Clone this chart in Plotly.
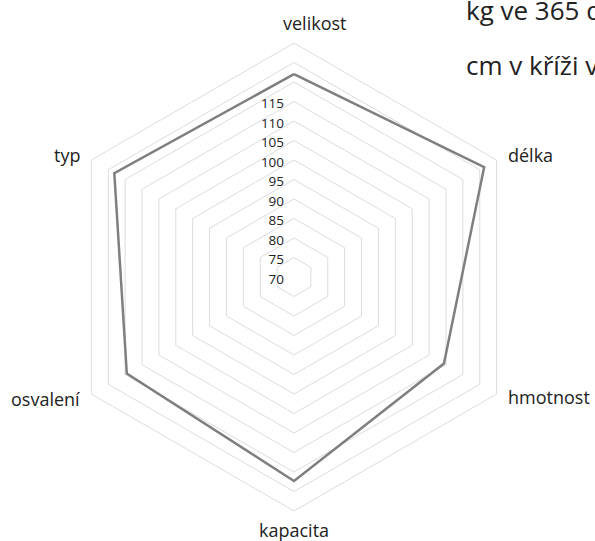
import plotly.graph_objects as go

categories = ["velikost", "délka", "hmotnost", "kapacita", "osvalení", "typ"]
values = [122.0, 126.3, 114.4, 122.3, 119.5, 123.2]
tick_values = [70, 75, 80, 85, 90, 95, 100, 105, 110, 115, 120, 125, 130]
tick_labels = ["70", "75", "80", "85", "90", "95", "100", "105", "110", "115", "", "", ""]
legend_lines = ["kg ve 365 dnech", "cm v kříži v dospělosti"]

W, H = 595, 541
FONT = "Open Sans"

# layout positions (pixels) for the category labels
label_pos = [
    (314, 23, "center"),
    (506, 155, "left"),
    (506, 397, "left"),
    (294, 530, "center"),
    (82, 399, "right"),
    (82, 155, "right"),
]

fig = go.Figure()
fig.add_trace(go.Scatterpolar(
    r=values + values[:1],
    theta=categories + categories[:1],
    mode="lines",
    line=dict(color="#7f7f7f", width=2.5),
    hoverinfo="skip",
    showlegend=False,
))

cx, cy, R = 294, 277, 234
fig.update_layout(
    width=W, height=H,
    margin=dict(l=0, r=0, t=0, b=0),
    paper_bgcolor="white",
    plot_bgcolor="white",
    font=dict(family=FONT, color="#222222"),
    polar=dict(
        domain=dict(x=[(cx - R) / W, (cx + R) / W], y=[(H - cy - R) / H, (H - cy + R) / H]),
        bgcolor="white",
        gridshape="linear",
        radialaxis=dict(
            range=[70, 130],
            tickvals=tick_values,
            ticktext=tick_labels,
            angle=90,
            side="counterclockwise",
            showline=False,
            ticks="",
            gridcolor="#dcdcdc",
            gridwidth=1,
            tickfont=dict(size=13.5, color="#222222", family=FONT),
        ),
        angularaxis=dict(
            categoryarray=categories,
            categoryorder="array",
            direction="clockwise",
            rotation=90,
            showgrid=False,
            showline=True,
            linecolor="#dcdcdc",
            linewidth=1,
            ticks="",
            showticklabels=False,
        ),
    ),
)

annotations = []
for name, (x, y, anchor) in zip(categories, label_pos):
    annotations.append(dict(
        text=name, x=x / W, y=1 - y / H, xref="paper", yref="paper",
        xanchor=anchor, yanchor="middle", showarrow=False,
        font=dict(size=18, family=FONT, color="#222222"),
    ))
for i, line in enumerate(legend_lines):
    annotations.append(dict(
        text=line, x=464 / W, y=1 - (10 + 55 * i) / H, xref="paper", yref="paper",
        xanchor="left", yanchor="middle", showarrow=False,
        font=dict(size=26, family=FONT, color="#222222"),
    ))
fig.update_layout(annotations=annotations)

fig.write_html(
    "out.html",
    config={"displayModeBar": False},
    post_script="document.body.style.margin='0';document.body.style.overflow='hidden';",
)
